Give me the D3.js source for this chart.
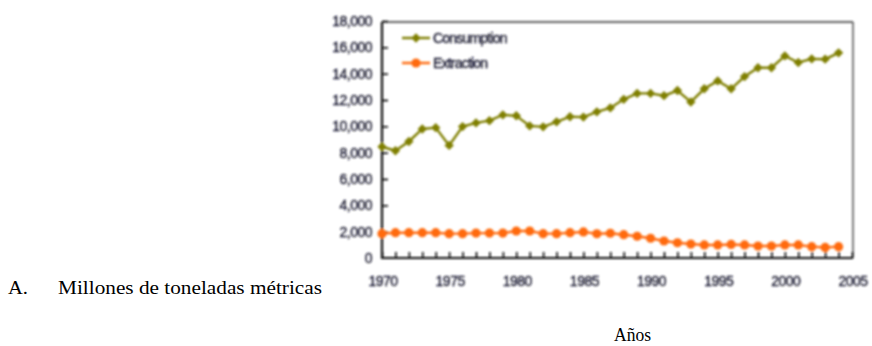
<!DOCTYPE html>
<html>
<head>
<meta charset="utf-8">
<script src="https://cdn.jsdelivr.net/npm/d3@7"></script>
<style>
  html, body { margin: 0; padding: 0; background: #fff; }
  svg { display: block; }
  .lbl { font-family: "Liberation Sans", Arial, sans-serif; font-size: 14px; letter-spacing: -0.5px; fill: #1a1a2e; stroke: #1a1a2e; stroke-width: 0.35px; }
  .leg { letter-spacing: -0.8px; }
  .serif { font-family: "Liberation Serif", "Times New Roman", serif; font-size: 18px; fill: #000; }
</style>
</head>
<body>
<script>
// Years 1970–2004
const years = d3.range(1970, 2005);

// Material consumption, million metric tons
const consumption = [
  8450, 8150, 8850, 9800, 9900, 8550, 9980, 10260, 10430, 10870,
  10800, 10030, 9960, 10340, 10730, 10700, 11100, 11400, 12050, 12500,
  12500, 12330, 12720, 11850, 12850, 13450, 12850, 13780, 14450, 14450,
  15350, 14850, 15120, 15100, 15580
];

// Material extraction, million metric tons
const extraction = [
  1850, 1920, 1920, 1920, 1920, 1850, 1850, 1890, 1890, 1890,
  2050, 2050, 1850, 1850, 1920, 1980, 1840, 1880, 1770, 1650,
  1500, 1290, 1160, 1060, 990, 990, 1030, 990, 910, 910,
  990, 990, 860, 800, 860
];

const yTicks = [0, 2000, 4000, 6000, 8000, 10000, 12000, 14000, 16000, 18000];
const xTicks = [1970, 1975, 1980, 1985, 1990, 1995, 2000, 2005];

const W = 872, H = 346;
const svg = d3.select("body").append("svg").attr("width", W).attr("height", H);

const defs = svg.append("defs");
defs.append("filter").attr("id", "soft")
  .attr("x", "-5%").attr("y", "-5%").attr("width", "110%").attr("height", "110%")
  .append("feGaussianBlur").attr("stdDeviation", 0.8);

const x = d3.scaleLinear().domain([1970, 2005]).range([382, 852]);
const y = d3.scaleLinear().domain([0, 18000]).range([258, 21]);

const chart = svg.append("g").attr("filter", "url(#soft)");

// Frame: thin top and right edges
chart.append("line").attr("x1", x(1970)).attr("x2", x(2005) + 1).attr("y1", 22).attr("y2", 22)
  .attr("stroke", "#333").attr("stroke-width", 1.3);
chart.append("line").attr("x1", x(2005) + 1).attr("x2", x(2005) + 1).attr("y1", 22).attr("y2", y(0))
  .attr("stroke", "#333").attr("stroke-width", 1.3);

// Y axis with inward ticks
const yAxis = d3.axisRight(y).tickValues(yTicks.slice(1)).tickSize(6).tickFormat("");
const gy = chart.append("g").attr("transform", `translate(${x(1970)},0)`).call(yAxis);
gy.select(".domain").remove();
gy.selectAll(".tick line").attr("stroke", "#111").attr("stroke-width", 1.7);
chart.append("line").attr("x1", x(1970)).attr("x2", x(1970)).attr("y1", 22).attr("y2", y(0) + 1)
  .attr("stroke", "#111").attr("stroke-width", 2.2);

// X axis with inward yearly ticks
const xAxis = d3.axisTop(x).tickValues(years.concat([2005])).tickSize(6).tickFormat("");
const gx = chart.append("g").attr("transform", `translate(0,${y(0)})`).call(xAxis);
gx.select(".domain").remove();
gx.selectAll(".tick line").attr("stroke", "#111").attr("stroke-width", 1.7);
chart.append("line").attr("x1", x(1970) - 1).attr("x2", x(2005) + 1).attr("y1", y(0)).attr("y2", y(0))
  .attr("stroke", "#111").attr("stroke-width", 2.2);

// Tick labels
chart.append("g").selectAll("text").data(yTicks).join("text")
  .attr("class", "lbl")
  .attr("x", 372).attr("y", d => y(d) + 5)
  .attr("text-anchor", "end")
  .text(d => d3.format(",")(d));

chart.append("g").selectAll("text").data(xTicks).join("text")
  .attr("class", "lbl")
  .attr("x", d => x(d) + 1).attr("y", 286)
  .attr("text-anchor", "middle")
  .text(d => d);

// Series
const olive = "#7f7f00", orange = "#ff6a10";
const line = d3.line().x((d, i) => x(years[i])).y(d => y(d));

chart.append("path").datum(extraction).attr("d", line)
  .attr("fill", "none").attr("stroke", orange).attr("stroke-width", 2.4);
chart.append("g").selectAll("circle").data(extraction).join("circle")
  .attr("cx", (d, i) => x(years[i])).attr("cy", d => y(d)).attr("r", 4.6).attr("fill", orange);

chart.append("path").datum(consumption).attr("d", line)
  .attr("fill", "none").attr("stroke", olive).attr("stroke-width", 2.4);
const diamond = d3.symbol().type(d3.symbolDiamond2).size(56);
chart.append("g").selectAll("path").data(consumption).join("path")
  .attr("transform", (d, i) => `translate(${x(years[i])},${y(d)})`)
  .attr("d", diamond).attr("fill", olive);

// Legend
const legend = [
  { name: "Consumption", color: olive, shape: "diamond", yy: 38 },
  { name: "Extraction", color: orange, shape: "circle", yy: 63 }
];
const lg = chart.append("g");
legend.forEach(l => {
  lg.append("line").attr("x1", 402).attr("x2", 430).attr("y1", l.yy).attr("y2", l.yy)
    .attr("stroke", l.color).attr("stroke-width", 2.4);
  if (l.shape === "diamond") {
    lg.append("path").attr("transform", `translate(416,${l.yy})`).attr("d", diamond).attr("fill", l.color);
  } else {
    lg.append("circle").attr("cx", 416).attr("cy", l.yy).attr("r", 4.6).attr("fill", l.color);
  }
  lg.append("text").attr("class", "lbl leg").attr("x", 433).attr("y", l.yy + 5).text(l.name);
});

// Captions
svg.append("text").attr("class", "serif").attr("x", 8).attr("y", 294)
  .attr("textLength", 20).attr("lengthAdjust", "spacingAndGlyphs").text("A.");
svg.append("text").attr("class", "serif").attr("x", 58).attr("y", 294)
  .attr("textLength", 264).attr("lengthAdjust", "spacingAndGlyphs").text("Millones de toneladas métricas");
svg.append("text").attr("class", "serif").attr("x", 614).attr("y", 341)
  .attr("textLength", 37).attr("lengthAdjust", "spacingAndGlyphs").text("Años");
</script>
</body>
</html>
